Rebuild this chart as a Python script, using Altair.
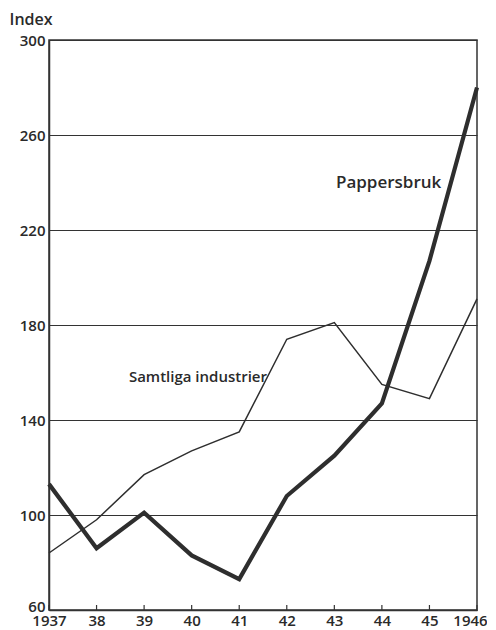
import altair as alt
import pandas as pd

years = [1937, 1938, 1939, 1940, 1941, 1942, 1943, 1944, 1945, 1946]
pappersbruk = [113, 86, 101, 83, 73, 108, 125, 147, 207, 280]
samtliga = [84, 98, 117, 127, 135, 174, 181, 155, 149, 191]
year_labels = ["1937", "38", "39", "40", "41", "42", "43", "44", "45", "1946"]
y_ticks = [60, 100, 140, 180, 220, 260, 300]

df = pd.DataFrame({
    "year": years * 2,
    "value": pappersbruk + samtliga,
    "series": ["Pappersbruk"] * len(years) + ["Samtliga industrier"] * len(years),
})
ticks_df = pd.DataFrame({"year": years, "label": year_labels})

W, H = 428, 570
FONT = "Open Sans"
INK = "#333333"
TXT = "#2a2a2a"

label_expr = "datum.value == 1937 ? '1937' : datum.value == 1946 ? '1946' : substring(toString(datum.value), 2, 4)"

x = alt.X("year:Q", scale=alt.Scale(domain=[1937, 1946], nice=False, zero=False),
          axis=alt.Axis(values=years, labelExpr=label_expr, title=None, grid=False,
                        ticks=False, domain=True, domainColor=INK, domainWidth=1.5,
                        labelFont=FONT, labelFontSize=15, labelColor=TXT,
                        labelFontWeight=600, labelPadding=3, labelFlush=False,
                        labelOffset={"expr": "datum.value == 1946 ? -7 : 0"}))
y = alt.Y("value:Q", scale=alt.Scale(domain=[60, 300], nice=False, zero=False),
          axis=alt.Axis(values=y_ticks, title="Index", titleAngle=0, titleX=-40, titleY=-21,
                        titleAlign="left", titleBaseline="middle", titleFont=FONT,
                        titleFontSize=16, titleFontWeight=600, titleColor=TXT,
                        grid=True, gridColor=INK, gridWidth=1.2, ticks=False,
                        domain=True, domainColor=INK, domainWidth=1.5,
                        labelFont=FONT, labelFontSize=15, labelColor=TXT,
                        labelFontWeight=600, labelPadding=4,
                        labelOffset={"expr": "datum.value == 60 ? -4 : 0"}))

base = alt.Chart(df)

thick = base.transform_filter(alt.datum.series == "Pappersbruk").mark_line(
    color="#2e2e2e", strokeWidth=4.2, strokeJoin="miter").encode(x=x, y=y)
thin = base.transform_filter(alt.datum.series == "Samtliga industrier").mark_line(
    color="#2e2e2e", strokeWidth=1.5, strokeJoin="miter").encode(x=x, y=y)

tickmarks = alt.Chart(ticks_df).mark_rule(color=INK, strokeWidth=1.2).encode(
    x=alt.X("year:Q"), y=alt.value(H), y2=alt.value(H - 5))

lab1 = alt.Chart(pd.DataFrame({"t": ["Pappersbruk"]})).mark_text(
    font=FONT, fontSize=17, fontWeight=600, color=TXT, align="right", baseline="middle"
).encode(x=alt.datum(1945.25), y=alt.datum(240), text="t:N")
lab2 = alt.Chart(pd.DataFrame({"t": ["Samtliga industrier"]})).mark_text(
    font=FONT, fontSize=15, fontWeight=600, color=TXT, align="left", baseline="middle"
).encode(x=alt.datum(1938.68), y=alt.datum(158), text="t:N")

chart = alt.layer(tickmarks, thin, thick, lab1, lab2).properties(
    width=W, height=H,
    autosize=alt.AutoSizeParams(type="none"),
    padding={"left": 41, "top": 32, "right": 10, "bottom": 25},
    background="white",
).configure_view(stroke=INK, strokeWidth=1.5)

chart.save("out.html", embed_options={"renderer": "svg", "actions": False})
